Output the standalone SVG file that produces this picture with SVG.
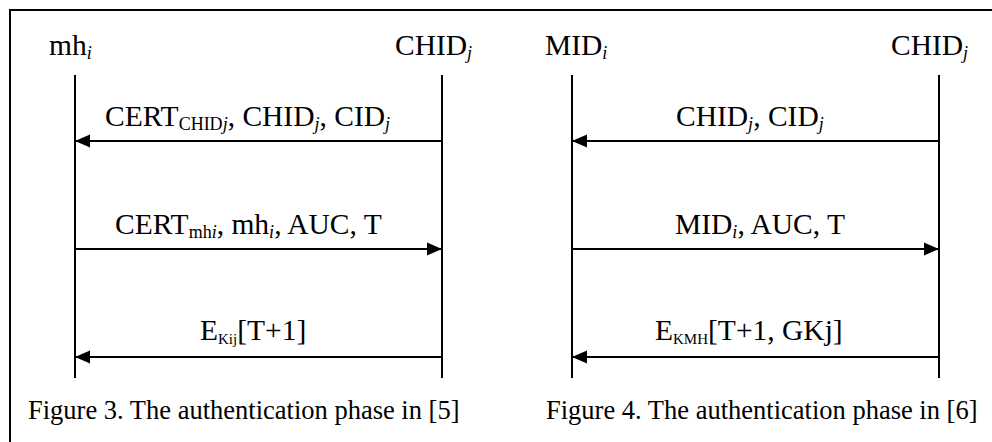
<svg xmlns="http://www.w3.org/2000/svg" width="992" height="442" viewBox="0 0 992 442">
<style>
.t{font-family:"Liberation Serif","Times New Roman",serif;font-size:29.5px;fill:#000}
.cap{font-size:26.5px}
.s{font-size:18px}
.k{font-size:15px}
.it{font-style:italic}
.life{stroke:#000;stroke-width:2;fill:none}
.msg{stroke:#000;stroke-width:2;fill:none;marker-end:url(#ah)}
.frame{stroke:#000;stroke-width:2;fill:none}
</style>
<defs>
<marker id="ah" markerUnits="userSpaceOnUse" markerWidth="16" markerHeight="14" refX="15" refY="7" orient="auto">
<path d="M0,0.5 L15,7 L0,13.5 z" fill="#000"/>
</marker>
</defs>
<rect width="992" height="442" fill="#fff"/>
<path class="frame" d="M10,442 L10,10 L992,10"/>

<g id="fig3">
<g id="mh_i">
<text class="t" x="49" y="55">mh<tspan class="s it" y="59">i</tspan></text>
<line class="life" x1="75" y1="75" x2="75" y2="378"/>
</g>
<g id="CHID_j_left">
<text class="t" x="395" y="55">CHID<tspan class="s it" y="59">j</tspan></text>
<line class="life" x1="442" y1="75" x2="442" y2="378"/>
</g>
<text class="t cap" x="28" y="419">Figure 3. The authentication phase in [5]</text>
</g>

<g id="fig4">
<g id="MID_i">
<text class="t" x="545" y="55">MID<tspan class="s it" y="59">i</tspan></text>
<line class="life" x1="572" y1="75" x2="572" y2="378"/>
</g>
<g id="CHID_j_right">
<text class="t" x="891" y="55">CHID<tspan class="s it" y="59">j</tspan></text>
<line class="life" x1="939" y1="75" x2="939" y2="378"/>
</g>
<text class="t cap" x="546" y="419">Figure 4. The authentication phase in [6]</text>
</g>

<g id="connectors">
<line class="msg" x1="442" y1="141" x2="75" y2="141"/>
<text class="t" x="105" y="126">CERT<tspan class="s" y="130">CHID</tspan><tspan class="s it" y="130">j</tspan><tspan y="126">, CHID</tspan><tspan class="s it" y="130">j</tspan><tspan y="126">, CID</tspan><tspan class="s it" y="130">j</tspan></text>
<line class="msg" x1="75" y1="249" x2="442" y2="249"/>
<text class="t" x="115" y="234">CERT<tspan class="s" y="238">mh</tspan><tspan class="s it" y="238">i</tspan><tspan y="234">, mh</tspan><tspan class="s it" y="238">i</tspan><tspan y="234">, AUC, T</tspan></text>
<line class="msg" x1="442" y1="357" x2="75" y2="357"/>
<text class="t" x="200" y="340">E<tspan class="k" y="344">Kij</tspan><tspan y="340">[T+1]</tspan></text>

<line class="msg" x1="939" y1="141" x2="572" y2="141"/>
<text class="t" x="676" y="126">CHID<tspan class="s it" y="130">j</tspan><tspan y="126">, CID</tspan><tspan class="s it" y="130">j</tspan></text>
<line class="msg" x1="572" y1="249" x2="939" y2="249"/>
<text class="t" x="675" y="234">MID<tspan class="s it" y="238">i</tspan><tspan y="234">, AUC, T</tspan></text>
<line class="msg" x1="939" y1="357" x2="572" y2="357"/>
<text class="t" x="655" y="340">E<tspan class="k" y="344">KMH</tspan><tspan y="340">[T+1, GKj]</tspan></text>
</g>
</svg>
